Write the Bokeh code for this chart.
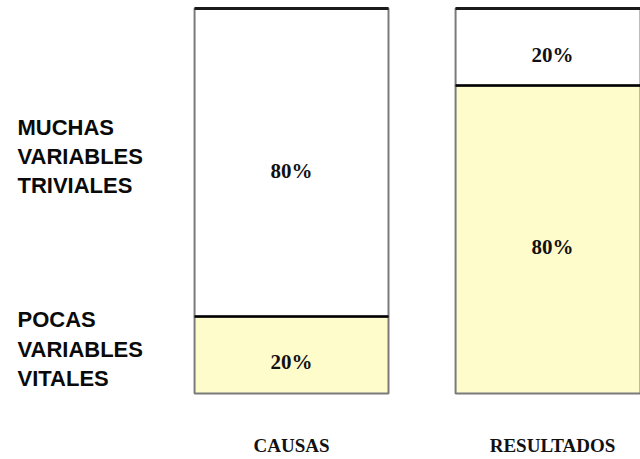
from bokeh.plotting import figure
from bokeh.models import ColumnDataSource, Range1d
from bokeh.core.properties import value
from bokeh.embed import file_html
from bokeh.resources import INLINE

# ---- data ----
categories = ["CAUSAS", "RESULTADOS"]
vitales = [20, 80]      # share of the "pocas variables vitales" (yellow, bottom)
triviales = [80, 20]    # share of the "muchas variables triviales" (white, top)
group_labels = ["POCAS\nVARIABLES\nVITALES", "MUCHAS\nVARIABLES\nTRIVIALES"]

xs = list(range(len(categories)))
bar_w = 0.743

p = figure(width=640, height=459, output_backend="svg", toolbar_location=None,
           x_range=Range1d(-1.115, 1.337), y_range=Range1d(-17.14, 102.08),
           x_axis_type=None, y_axis_type=None, min_border=0)
p.outline_line_color = None
p.xgrid.visible = False
p.ygrid.visible = False
p.background_fill_color = "white"

src = ColumnDataSource(dict(
    x=xs, vit=vitales, tri=triviales,
    vit_top=vitales,
    tot=[v + t for v, t in zip(vitales, triviales)],
    vit_mid=[v / 2 for v in vitales],
    tri_mid=[v + t / 2 for v, t in zip(vitales, triviales)],
    vit_lab=[f"{v}%" for v in vitales],
    tri_lab=[f"{t}%" for t in triviales],
    cat=categories,
    cat_y=[-13.6] * len(categories),
))

# bottom segment (yellow)
p.vbar(x="x", width=bar_w, bottom=0, top="vit_top", source=src,
       fill_color="#FFFCCC", line_color="#7a7a7a", line_width=2)
# top segment (white)
p.vbar(x="x", width=bar_w, bottom="vit_top", top="tot", source=src,
       fill_color="white", line_color="#7a7a7a", line_width=2)
# dark division and top edges
p.segment(x0=[x - bar_w / 2 for x in xs], x1=[x + bar_w / 2 for x in xs],
          y0=vitales, y1=vitales, line_color="black", line_width=2.5)
p.segment(x0=[x - bar_w / 2 for x in xs], x1=[x + bar_w / 2 for x in xs],
          y0=[v + t for v, t in zip(vitales, triviales)],
          y1=[v + t for v, t in zip(vitales, triviales)],
          line_color="#1a1a1a", line_width=3)

serif = value("Liberation Serif")
p.text(x="x", y="vit_mid", text="vit_lab", source=src, text_align="center",
       text_baseline="middle", y_offset=7, text_font=serif,
       text_font_size="21px", text_font_style="bold", text_color="#111111")
p.text(x="x", y="tri_mid", text="tri_lab", source=src, text_align="center",
       text_baseline="middle", y_offset=8, text_font=serif,
       text_font_size="21px", text_font_style="bold", text_color="#111111")

# category labels
p.text(x="x", y="cat_y", text="cat", source=src, text_align="center",
       text_baseline="middle", text_font=serif, text_font_size="19px",
       text_font_style="bold", text_color="#111111")

# group labels at left, aligned with the first bar's segments
p.text(x=[-1.05, -1.05],
       y=[vitales[0] / 2, vitales[0] + triviales[0] / 2],
       text=group_labels, text_align="left", text_baseline="middle",
       y_offset=-6, text_font=value("Liberation Sans"), text_font_size="22px",
       text_font_style="bold", text_color="#0a0a0a", text_line_height=1.17)

open("out.html", "w").write(file_html(p, INLINE))
